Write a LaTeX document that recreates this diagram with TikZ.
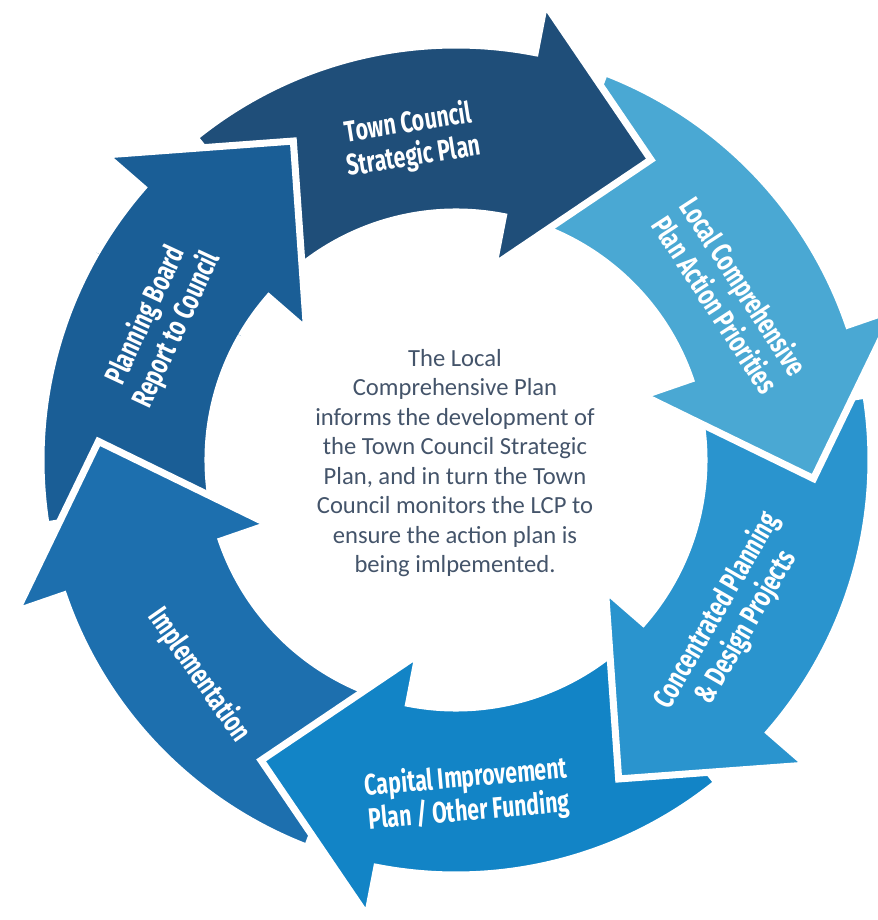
\documentclass[tikz,border=0pt]{standalone}
\usepackage{fontspec}
\setmainfont{Carlito}
\newfontfamily\arrowfont{Fira Sans}
\usetikzlibrary{calc}
\definecolor{tcblue}{HTML}{1F4E79}
\definecolor{lcpblue}{HTML}{4AA8D3}
\definecolor{conblue}{HTML}{2A94CE}
\definecolor{capblue}{HTML}{1284C6}
\definecolor{impblue}{HTML}{1D6FAE}
\definecolor{pbblue}{HTML}{1A5E96}
\definecolor{notegray}{HTML}{44546A}

\begin{document}
\begin{tikzpicture}[x=0.025cm, y=0.025cm,
    part/.style={draw=white, line width=5pt, line join=miter},
    lbl/.style={xscale=0.72, text=white, align=center, font=\arrowfont\bfseries\fontsize{21}{24}\selectfont}]
      \useasboundingbox (-456,-460) rectangle (422,460);
      % arrows, drawn against the flow so each head lies on the next tail
      \filldraw[part, fill=pbblue] (-171:415) arc[start angle=-171, end angle=-221, radius=415] -- (-221:465) -- ($(-221:332)+(-311:134)$) -- (-221:198) -- (-221:248) arc[start angle=-221, end angle=-171, radius=248] -- cycle;
      \filldraw[part, fill=impblue] (-111:415) arc[start angle=-111, end angle=-161, radius=415] -- (-161:465) -- ($(-161:332)+(-251:134)$) -- (-161:198) -- (-161:248) arc[start angle=-161, end angle=-111, radius=248] -- cycle;
      \filldraw[part, fill=capblue] (-51:415) arc[start angle=-51, end angle=-101, radius=415] -- (-101:465) -- ($(-101:332)+(-191:134)$) -- (-101:198) -- (-101:248) arc[start angle=-101, end angle=-51, radius=248] -- cycle;
      \filldraw[part, fill=conblue] (9:415) arc[start angle=9, end angle=-41, radius=415] -- (-41:465) -- ($(-41:332)+(-131:134)$) -- (-41:198) -- (-41:248) arc[start angle=-41, end angle=9, radius=248] -- cycle;
      \filldraw[part, fill=lcpblue] (69:415) arc[start angle=69, end angle=19, radius=415] -- (19:465) -- ($(19:332)+(-71:134)$) -- (19:198) -- (19:248) arc[start angle=19, end angle=69, radius=248] -- cycle;
      \filldraw[part, fill=tcblue] (129:415) arc[start angle=129, end angle=79, radius=415] -- (79:465) -- ($(79:332)+(-11:134)$) -- (79:198) -- (79:248) arc[start angle=79, end angle=129, radius=248] -- cycle;
      % head of the last arrow once more, over the first tail
      \begin{scope}
        \clip (0,0) -- (100:600) arc[start angle=100, end angle=150, radius=600] -- cycle;
        \filldraw[part, fill=pbblue] (-171:415) arc[start angle=-171, end angle=-221, radius=415] -- (-221:465) -- ($(-221:332)+(-311:134)$) -- (-221:198) -- (-221:248) arc[start angle=-221, end angle=-171, radius=248] -- cycle;
      \end{scope}
      \node[rotate=9, lbl] (tc) at (98:323) {Town Council\\Strategic Plan};
      \node[rotate=-57, lbl] (lcp) at (31:320) {Local Comprehensive\\Plan Action Priorities};
      \node[rotate=60, lbl] (con) at (-30:318) {Concentrated Planning\\\& Design Projects};
      \node[rotate=5, lbl] (cap) at (-88:335) {Capital Improvement\\Plan / Other Funding};
      \node[rotate=-55, lbl] (imp) at (-140:335) {Implementation};
      \node[rotate=65, lbl] (pb) at (155:325) {Planning Board\\Report to Council};
      \node[text=notegray, align=center, font=\fontsize{17.5}{21}\selectfont] (note) at (-1,-3) {The Local\\Comprehensive Plan\\informs the development of\\the Town Council Strategic\\Plan, and in turn the Town\\Council monitors the LCP to\\ensure the action plan is\\being imlpemented.};
    \end{tikzpicture}
\end{document}
